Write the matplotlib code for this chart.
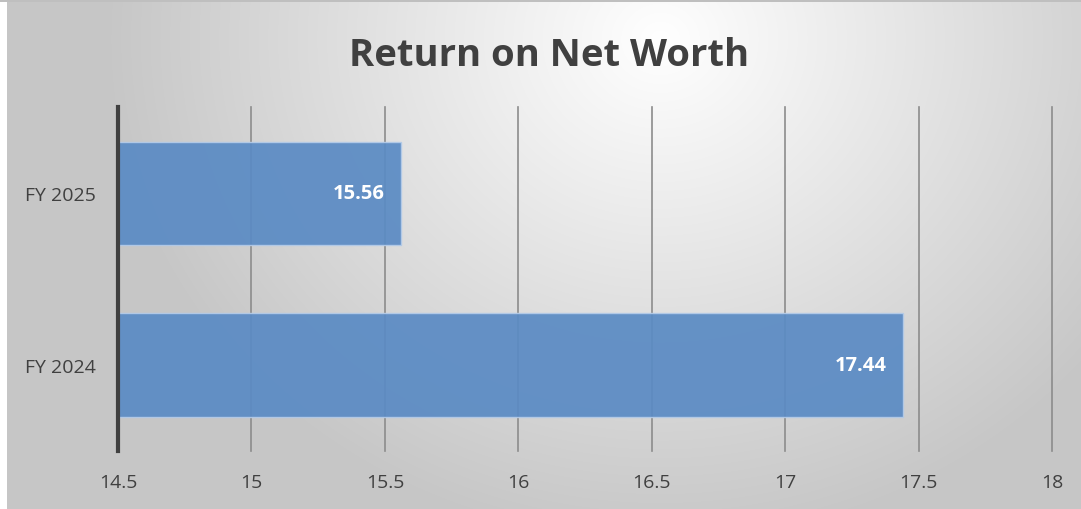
import numpy as np
import matplotlib
matplotlib.use('Agg')
import matplotlib.pyplot as plt

# data
categories = ['FY 2024', 'FY 2025']
values = [17.44, 15.56]
xticks = [14.5, 15, 15.5, 16, 16.5, 17, 17.5, 18]

plt.rcParams['font.family'] = ['Open Sans', 'DejaVu Sans']

fig = plt.figure(figsize=(10.81, 5.10), dpi=100)

# radial gradient background, white near the title
bg = fig.add_axes([0, 0, 1, 1], zorder=-10)
W, H = 1081, 510
xx, yy = np.meshgrid(np.arange(W), np.arange(H))
d = np.sqrt(((xx - 660) / 550.0) ** 2 + ((yy - 40) / 500.0) ** 2)
g = 1.0 - 0.22 * d
g = np.clip(g, 0.78, 1.0)
img = np.dstack([g, g, g])
img[:, :7] = 1.0
img[:3, :] = 0.75
bg.imshow(img, aspect='auto', extent=[0, 1, 0, 1])
bg.axis('off')

ax = fig.add_axes([0.1092, 0.1137, 0.9732 - 0.1092, 0.788 - 0.1137])
ax.patch.set_alpha(0)

y = np.arange(len(categories))
bars = ax.barh(y, [v - 14.5 for v in values], left=14.5, height=0.6,
               color='#5b8bc4', alpha=0.93, edgecolor='#b4cbe8', linewidth=1, zorder=3)

for b, v in zip(bars, values):
    ax.text(v - 0.06, b.get_y() + b.get_height() / 2, f'{v:.2f}', ha='right', va='center',
            color='white', fontsize=14.5, fontweight='bold', zorder=4)

ax.set_xlim(14.5, 18)
ax.set_ylim(-0.5, 1.5)
ax.set_xticks(xticks)
ax.set_xticklabels([f'{t:g}' for t in xticks])
ax.set_yticks(y)
ax.set_yticklabels(categories)
ax.tick_params(axis='both', length=0, colors='#404040', labelsize=14)
ax.tick_params(axis='x', pad=16)
ax.tick_params(axis='y', pad=16)
ax.grid(axis='x', color='#8c8c8c', linewidth=1.2, zorder=1)
for gl in ax.get_xgridlines():
    gl.set_clip_on(False)
for s in ['top', 'right', 'bottom']:
    ax.spines[s].set_visible(False)
ax.spines['left'].set_color('#404040')
ax.spines['left'].set_linewidth(3)
ax.spines['left'].set_zorder(5)

fig.text(0.508, 0.89, 'Return on Net Worth', ha='center', va='center',
         fontsize=27.5, fontweight='bold', color='#404040')

plt.savefig('out.png', dpi=100)
